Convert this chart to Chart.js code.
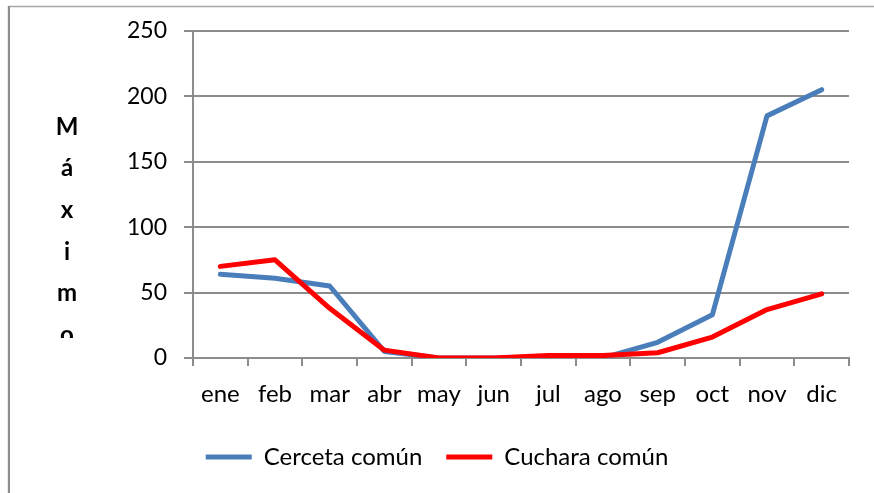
<!DOCTYPE html>
<html>
<head>
<meta charset="utf-8">
<script src="https://cdn.jsdelivr.net/npm/chart.js@4/dist/chart.umd.min.js"></script>
<style>
  html, body { margin: 0; padding: 0; background: #fff; }
  #wrap { width: 874px; height: 493px; position: relative; }
</style>
</head>
<body>
<div id="wrap"><canvas id="c" width="874" height="493"></canvas></div>
<script>
// Meses y máximos mensuales por especie
const meses = ['ene', 'feb', 'mar', 'abr', 'may', 'jun', 'jul', 'ago', 'sep', 'oct', 'nov', 'dic'];
const cercetaComun = [64, 61, 55, 5, 0, 0, 1, 0, 12, 33, 185, 205];
const cucharaComun = [70, 75, 38, 6, 0, 0, 2, 2, 4, 16, 37, 49];
const ejeY = { min: 0, max: 250, paso: 50 };
const tituloEjeY = 'Máximo';

const FONT = "Lato, 'Liberation Sans', sans-serif";
const GRIS = '#8c8c8c';

// Marco exterior del gráfico
const marco = {
  id: 'marco',
  beforeDraw(chart) {
    const ctx = chart.ctx;
    ctx.save();
    ctx.fillStyle = '#fff';
    ctx.fillRect(0, 0, chart.width, chart.height);
    ctx.strokeStyle = '#a6a6a6';
    ctx.lineWidth = 1.5;
    ctx.beginPath();
    ctx.moveTo(8.5, chart.height + 2);
    ctx.lineTo(8.5, 6.5);
    ctx.lineTo(chart.width + 2, 6.5);
    ctx.stroke();
    ctx.strokeStyle = GRIS;
    ctx.lineWidth = 2;
    ctx.beginPath();
    ctx.moveTo(9, chart.height + 2);
    ctx.lineTo(9, 6);
    ctx.stroke();
    ctx.restore();
  }
};

// La leyenda se centra sobre todo el ancho del lienzo, no sólo del área útil
const centrarLeyenda = {
  id: 'centrarLeyenda',
  afterLayout(chart) {
    const lg = chart.legend;
    if (!lg) return;
    const shift = (chart.width - (lg.left + lg.right)) / 2;
    lg.left += shift;
    lg.right += shift;
  }
};

// Título del eje Y con las letras apiladas, recortado por abajo
const tituloVertical = {
  id: 'tituloVertical',
  afterDraw(chart) {
    const ctx = chart.ctx;
    ctx.save();
    ctx.beginPath();
    ctx.rect(20, 100, 100, 238);
    ctx.clip();
    ctx.fillStyle = '#000';
    ctx.font = 'bold 24px ' + FONT;
    ctx.textAlign = 'center';
    ctx.textBaseline = 'middle';
    const letras = Array.from(tituloEjeY);
    letras.forEach((l, i) => ctx.fillText(l, 67, 127 + i * 41.6));
    ctx.restore();
  }
};

new Chart(document.getElementById('c'), {
  type: 'line',
  data: {
    labels: meses,
    datasets: [
      {
        label: 'Cerceta común',
        data: cercetaComun,
        borderColor: '#4a7ebb',
        backgroundColor: '#4a7ebb',
        borderWidth: 5,
        borderCapStyle: 'round',
        borderJoinStyle: 'round',
        pointRadius: 0,
        pointStyle: 'line',
        tension: 0,
        order: 1
      },
      {
        label: 'Cuchara común',
        data: cucharaComun,
        borderColor: '#ff0000',
        backgroundColor: '#ff0000',
        borderWidth: 5,
        borderCapStyle: 'round',
        borderJoinStyle: 'round',
        pointRadius: 0,
        pointStyle: 'line',
        tension: 0,
        order: 0
      }
    ]
  },
  options: {
    responsive: false,
    animation: false,
    devicePixelRatio: 1,
    layout: { padding: { left: 0, right: 25, top: 23, bottom: 14 } },
    plugins: {
      tooltip: { enabled: false },
      legend: {
        position: 'bottom',
        labels: {
          usePointStyle: true,
          pointStyleWidth: 46,
          padding: 24,
          color: '#000',
          font: { family: FONT, size: 24 },
          sort: (a, b) => a.datasetIndex - b.datasetIndex
        }
      }
    },
    scales: {
      x: {
        type: 'category',
        offset: true,
        grid: {
          offset: true,
          drawOnChartArea: false,
          drawTicks: true,
          tickLength: 8,
          color: GRIS,
          lineWidth: 2
        },
        border: { display: true, color: GRIS, width: 2 },
        ticks: {
          color: '#000',
          padding: 14,
          maxRotation: 0,
          autoSkip: false,
          font: { family: FONT, size: 24 }
        },
        afterFit(scale) { scale.height = 63; }
      },
      y: {
        min: ejeY.min,
        max: ejeY.max,
        grid: {
          color: GRIS,
          lineWidth: 2,
          drawTicks: true,
          tickLength: 9
        },
        border: { display: true, color: GRIS, width: 2 },
        ticks: {
          stepSize: ejeY.paso,
          color: '#000',
          padding: 17,
          font: { family: FONT, size: 23 }
        },
        afterFit(scale) { scale.width = 193; }
      }
    }
  },
  plugins: [marco, centrarLeyenda, tituloVertical]
});
</script>
</body>
</html>
